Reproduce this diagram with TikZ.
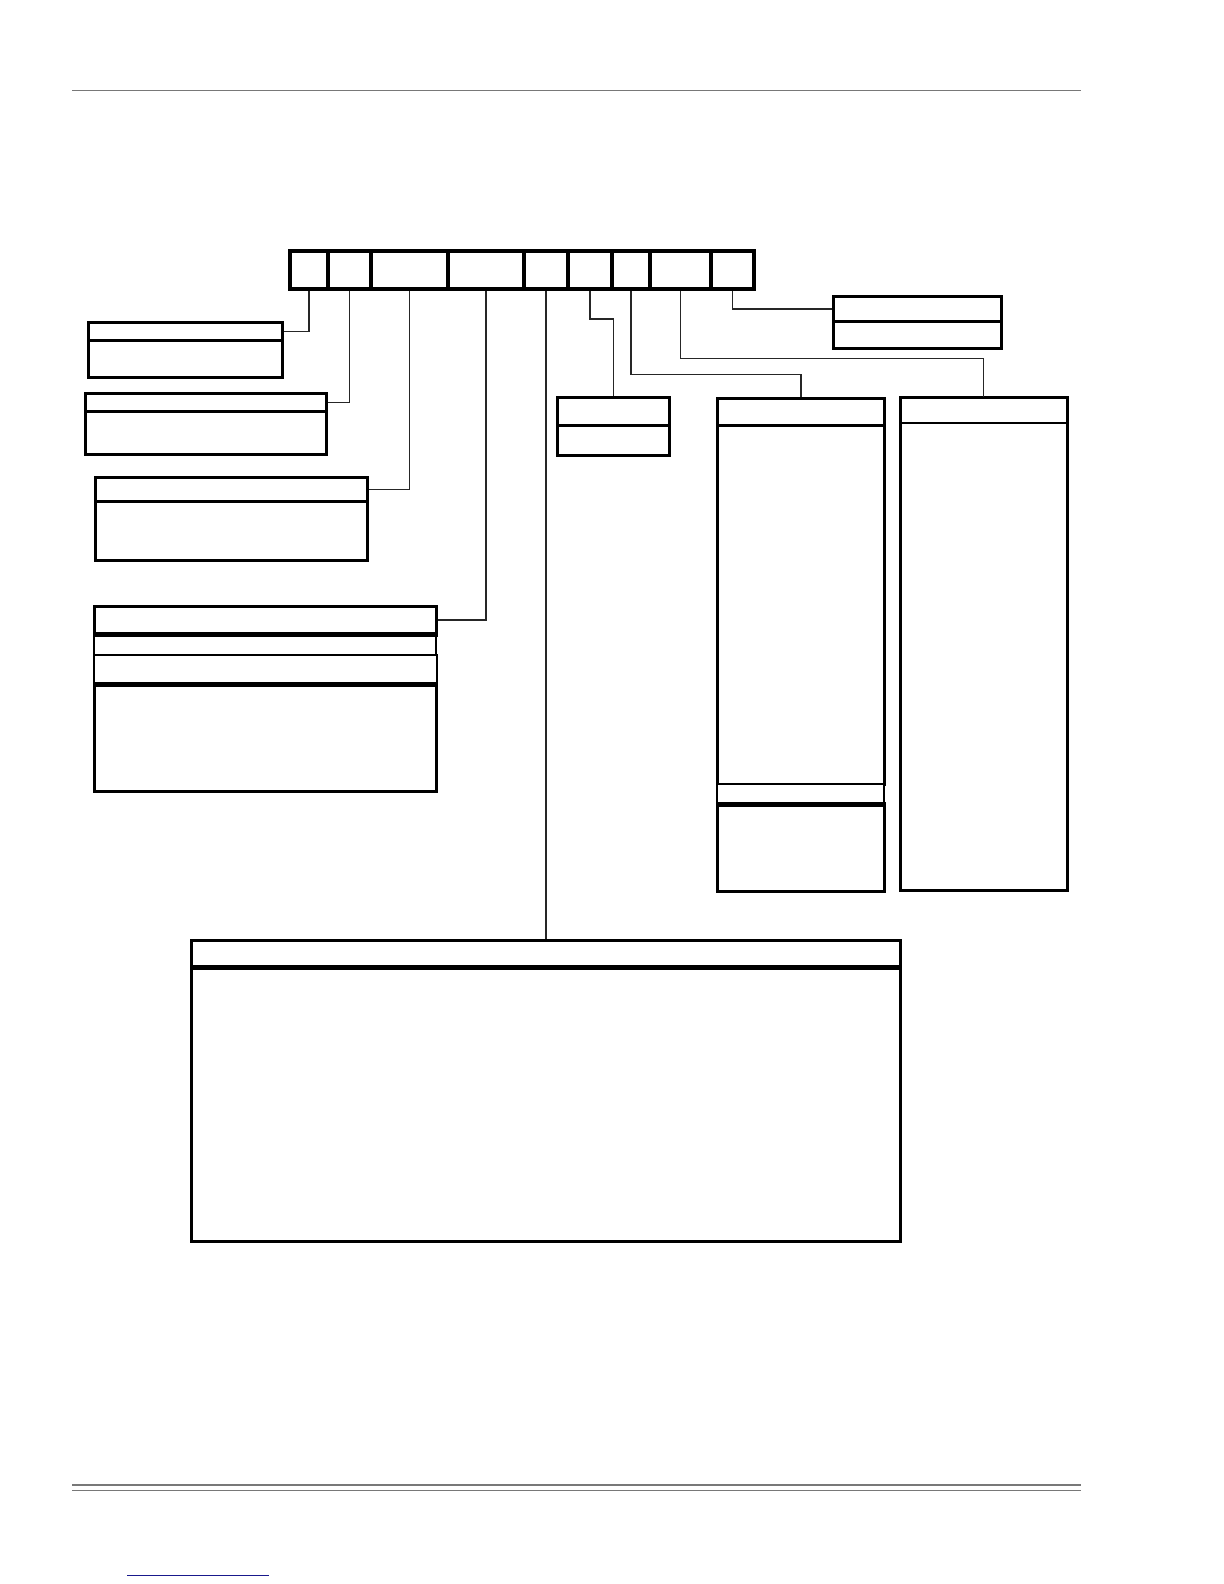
\documentclass[tikz,border=0pt]{standalone}
\definecolor{linkblue}{RGB}{25,25,140}
\definecolor{rulegray}{RGB}{120,120,120}
\begin{document}
\begin{tikzpicture}[x=0.5pt,y=-0.5pt,
  cell/.style={draw, line width=2pt, inner sep=0pt, anchor=north west, minimum height=19pt},
  part/.style={draw, line width=1.5pt, inner sep=0pt, anchor=north west, fill=white},
  conn/.style={line width=0.7pt, black!85},
  rule/.style={rulegray}]
\useasboundingbox[fill=white] (0,0) rectangle (1224,1584);

% page rules
\draw[rule, line width=0.75pt] (72,90.3) -- (1081,90.3);
\draw[rule, line width=1.2pt] (72,1484.7) -- (1081,1484.7);
\draw[rule, line width=0.7pt] (72,1490.3) -- (1081,1490.3);
\draw[linkblue, line width=0.6pt] (127,1575.3) -- (269,1575.3);

% top register bar
\node[cell, minimum width=19pt]   (c1) at (288,249) {};
\node[cell, minimum width=21.5pt] (c2) at (326,249) {};
\node[cell, minimum width=38.5pt] (c3) at (369,249) {};
\node[cell, minimum width=38pt]   (c4) at (446,249) {};
\node[cell, minimum width=22pt]   (c5) at (522,249) {};
\node[cell, minimum width=22pt]   (c6) at (566,249) {};
\node[cell, minimum width=19pt]   (c7) at (610,249) {};
\node[cell, minimum width=30.5pt] (c8) at (648,249) {};
\node[cell, minimum width=21.5pt] (c9) at (709,249) {};

% box E
\node[part, minimum width=97pt, minimum height=9pt]    (Eh) at (87,321) {};
\node[part, minimum width=97pt, minimum height=18.5pt] (Eb) at (87,339) {};
% box F
\node[part, minimum width=120.5pt, minimum height=9pt]    (Fh) at (84,392) {};
\node[part, minimum width=120.5pt, minimum height=21.5pt] (Fb) at (84,410) {};
% box G
\node[part, minimum width=136pt, minimum height=12pt]   (Gh) at (94,476) {};
\node[part, minimum width=136pt, minimum height=29.5pt] (Gb) at (94,500) {};
% box H
\node[part, minimum width=171pt, minimum height=13.5pt] (Hh) at (93,605) {};
\node[part, line width=1.2pt, minimum width=171pt, minimum height=11pt] (Hs1) at (93,632) {};
\node[part, line width=1.2pt, minimum width=171.5pt, minimum height=15pt] (Hs2) at (93,654) {};
\node[part, minimum width=171pt, minimum height=53pt] (Hb) at (93,684) {};
\draw[line width=2pt] (Hh.south west) -- (Hh.south east);
\draw[line width=2pt] (Hb.north west) -- (Hb.north east);

% box D
\node[part, minimum width=84pt, minimum height=12.5pt] (Dh) at (832,295) {};
\node[part, minimum width=84pt, minimum height=13.5pt] (Db) at (832,320) {};
% box A
\node[part, minimum width=56pt, minimum height=14pt] (Ah) at (556,396) {};
\node[part, minimum width=56pt, minimum height=15pt] (Ab) at (556,424) {};
% box B
\node[part, minimum width=83.5pt, minimum height=13.5pt]  (Bh)  at (716,397) {};
\node[part, minimum width=83.5pt, minimum height=179.5pt] (Bb1) at (716,424) {};
\node[part, line width=1.2pt, minimum width=83.5pt, minimum height=10.5pt] (Bs) at (716,783) {};
\node[part, minimum width=83.5pt, minimum height=43pt]    (Bb2) at (716,804) {};
\draw[line width=1.8pt] (Bb2.north west) -- (Bb2.north east);
% box C
\node[part, draw=none, outer sep=0pt, minimum width=83.5pt, minimum height=233.5pt] (Cb) at (900,423) {};
\node[part, draw=none, outer sep=0pt, minimum width=83.5pt, minimum height=13pt]    (Ch) at (900,397) {};
\draw[line width=1.5pt] (Ch.north west) rectangle (Cb.south east);
\draw[line width=1pt] (Ch.south west) -- (Ch.south east);
% big box Z
\node[part, minimum width=354.5pt, minimum height=14pt]    (Zh) at (190,939) {};
\node[part, minimum width=354.5pt, minimum height=136.5pt] (Zb) at (190,967) {};
\draw[line width=2.5pt] (Zb.north west) -- (Zb.north east);

% turn levels
\coordinate (k6) at (0,319);
\coordinate (k7) at (0,374.3);
\coordinate (k8) at (0,358.5);

% connectors
\draw[conn] (c1.south) |- (Eh.east);
\draw[conn] (c2.south) |- (Fh.east);
\draw[conn] (c3.south) |- (Gh.east);
\draw[conn] (c4.south) |- (Hh.east);
\draw[conn] (c5.south) -- (Zh.north);
\draw[conn] (c6.south) -- (c6.south |- k6) -| (Ah.north);
\draw[conn] (c7.south) -- (c7.south |- k7) -| (Bh.north);
\draw[conn] (c8.south) -- (c8.south |- k8) -| (Ch.north);
\draw[conn] (c9.south) |- (Dh.west);
\end{tikzpicture}
\end{document}
